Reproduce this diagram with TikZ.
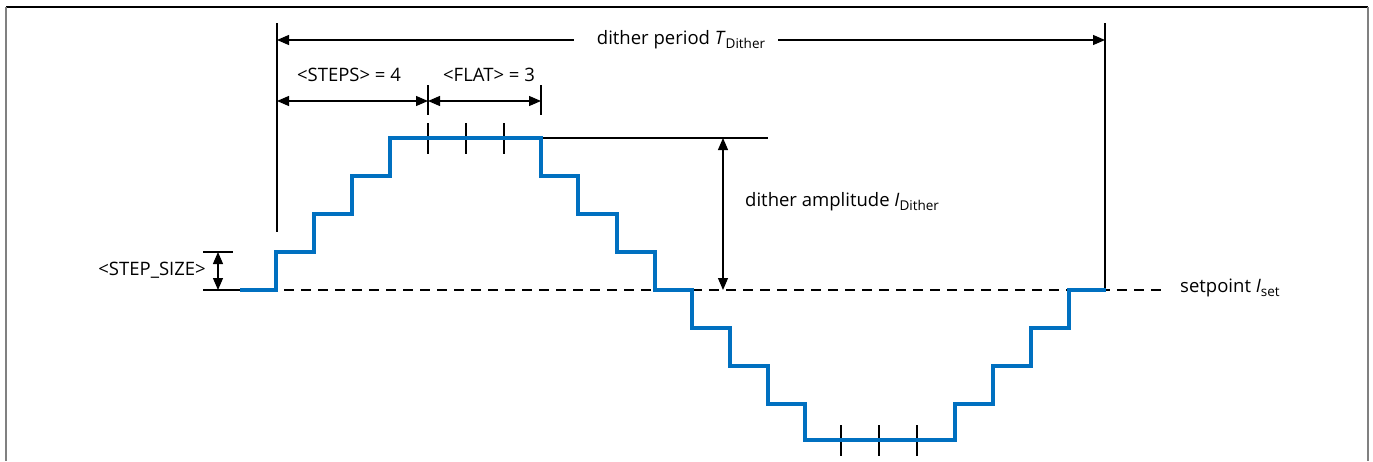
\documentclass[tikz,border=0pt]{standalone}
\usepackage{fontspec}
\setmainfont{Open Sans}
\usetikzlibrary{arrows.meta}
\definecolor{wave}{HTML}{0070C0}
\definecolor{frame}{HTML}{808080}
\newcommand{\sub}[1]{\raisebox{-0.35ex}{\fontsize{13.5}{13.5}\selectfont #1}}
\begin{document}
\begin{tikzpicture}[x=1pt,y=-1pt,
  lbl/.style={font=\fontsize{18.5}{21}\selectfont, inner sep=0pt},
  dim/.style={line width=1.2pt, {Triangle[length=12pt,width=10pt]}-{Triangle[length=12pt,width=10pt]}},
  halfdim/.style={line width=1.2pt, -{Triangle[length=12pt,width=10pt]}},
  thin/.style={line width=1.2pt},
  tick/.style={line width=1.8pt},
  wavestyle/.style={wave, line width=3.2pt, line join=miter},
  setline/.style={line width=1.2pt, dash pattern=on 10pt off 7pt}]
\useasboundingbox (0,0) rectangle (1373,461);
% frame
\draw[line width=1.5pt] (6,7) -- (1368,7);
\draw[frame, line width=2pt] (6,7) -- (6,461);
\draw[frame, line width=2pt] (1368,7) -- (1368,461);

% coordinates
\coordinate (pl) at (277,23);
\coordinate (pr) at (1105,23);
\coordinate (plb) at (277,232);
\coordinate (prb) at (1105,288);
\coordinate (pla) at (277,40);
\coordinate (pra) at (1105,40);
\coordinate (f1t) at (428,85);
\coordinate (f1b) at (428,115);
\coordinate (f2t) at (541,85);
\coordinate (f2b) at (541,115);
\coordinate (sa) at (277,101);
\coordinate (sm) at (428,101);
\coordinate (se) at (541,101);
\coordinate (amp0) at (541,138);
\coordinate (amp1) at (768,138);
\coordinate (ampT) at (723,138);
\coordinate (ampB) at (723,290);
\coordinate (ss0) at (203,252);
\coordinate (ss1) at (233,252);
\coordinate (ss2) at (203,290);
\coordinate (ss3) at (233,290);
\coordinate (ssT) at (218,252);
\coordinate (ssB) at (218,290);
\coordinate (ssM) at (218,271);
\coordinate (d0) at (233,290);
\coordinate (d1) at (1163,290);

% setpoint line
\draw[setline] (d0) -- (d1);

% dither period
\draw[thin] (pl) -- (plb);
\draw[thin] (pr) -- (prb);
\node[lbl, anchor=center] (tper) at (681,40) {dither period \textit{T}\sub{Dither}};
\draw[halfdim] (tper.west) ++(-23,0) -- (pla);
\draw[halfdim] (tper.east) ++(13,0) -- (pra);

% steps / flat
\draw[thin] (f1t) -- (f1b);
\draw[thin] (f2t) -- (f2b);
\draw[dim] (sa) -- (sm);
\draw[dim] (sm) -- (se);
\node[lbl] (steps) at (349,75) {<STEPS> = 4};
\node[lbl] (flat) at (489,75) {<FLAT> = 3};

% amplitude
\draw[thin] (amp0) -- (amp1);
\draw[dim] (ampT) -- (ampB);
\node[lbl, anchor=west] (amp) at (745,202) {dither amplitude \textit{I}\sub{Dither}};

% step size
\draw[thin] (ss0) -- (ss1);
\draw[thin] (ss2) -- (ss3);
\draw[halfdim] (ssM) -- (ssT);
\draw[halfdim] (ssM) -- (ssB);
\node[lbl, anchor=east] (ssz) at (206,270) {<STEP\_SIZE>};

% setpoint label
\node[lbl, anchor=west] (setp) at (1180,288) {setpoint \textit{I}\sub{set}};

% ticks
\foreach \x in {428,466,504} \draw[tick] (\x,123) -- (\x,154);
\foreach \x in {841,879,917} \draw[tick] (\x,425) -- (\x,456);

% waveform
\draw[wavestyle] (240,290) -- (276,290) -- (276,252) -- (314,252) -- (314,214)
  -- (352,214) -- (352,176) -- (390,176) -- (390,138) -- (541,138) -- (541,176)
  -- (578,176) -- (578,214) -- (617,214) -- (617,252) -- (655,252) -- (655,290)
  -- (692,290) -- (692,328) -- (730,328) -- (730,366) -- (768,366) -- (768,404)
  -- (805,404) -- (805,440) -- (955,440) -- (955,404) -- (993,404) -- (993,366)
  -- (1031,366) -- (1031,328) -- (1069,328) -- (1069,290) -- (1106,290);
\end{tikzpicture}
\end{document}
